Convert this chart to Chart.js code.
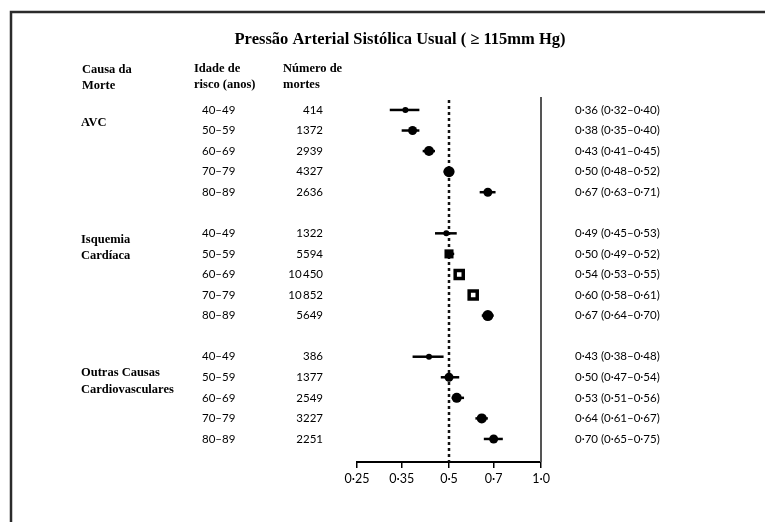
<!DOCTYPE html>
<html lang="pt">
<head>
<meta charset="utf-8">
<title>Pressão Arterial Sistólica Usual</title>
<script src="https://cdn.jsdelivr.net/npm/chart.js@4.4.1/dist/chart.umd.min.js"></script>
<style>
  html, body { margin: 0; padding: 0; background: #fff; }
  #wrap { width: 765px; height: 522px; }
</style>
</head>
<body>
<div id="wrap"><canvas id="forest" width="765" height="522"></canvas></div>
<script>
// forest.js — razão de risco por causa de morte e idade

// Dados
const causas = [['AVC'], ['Isquemia', 'Cardíaca'], ['Outras Causas', 'Cardiovasculares']];
const idades = ['40–49', '50–59', '60–69', '70–79', '80–89'];

const mortesAVC = [414, 1372, 2939, 4327, 2636];
const mortesIsq = [1322, 5594, 10450, 10852, 5649];
const mortesOutras = [386, 1377, 2549, 3227, 2251];

const rrAVC = [0.36, 0.38, 0.43, 0.50, 0.67];
const infAVC = [0.32, 0.35, 0.41, 0.48, 0.63];
const supAVC = [0.40, 0.40, 0.45, 0.52, 0.71];

const rrIsq = [0.49, 0.50, 0.54, 0.60, 0.67];
const infIsq = [0.45, 0.49, 0.53, 0.58, 0.64];
const supIsq = [0.53, 0.52, 0.55, 0.61, 0.70];

const rrOutras = [0.43, 0.50, 0.53, 0.64, 0.70];
const infOutras = [0.38, 0.47, 0.51, 0.61, 0.65];
const supOutras = [0.48, 0.54, 0.56, 0.67, 0.75];

const ticksX = [0.25, 0.35, 0.5, 0.7, 1.0];

// Estilo dos marcadores (tamanho ~ precisão da estimativa)
const raios = [
  [3, 4.5, 5, 5.5, 4.5],
  [3, 6.4, 5.7, 5.7, 5.5],
  [3, 4.5, 5, 5, 4.5]
];
const formatos = [
  ['circle', 'circle', 'circle', 'circle', 'circle'],
  ['circle', 'rect', 'rect', 'rect', 'circle'],
  ['circle', 'circle', 'circle', 'circle', 'circle']
];
const vazados = [
  [false, false, false, false, false],
  [false, false, true, true, false],
  [false, false, false, false, false]
];
// linhas do texto do grupo, relativas à primeira linha do grupo
const linhasRotulo = [[0.6], [0.3, 1.1], [0.8, 1.6]];

const grupos = [
  { mortes: mortesAVC, rr: rrAVC, inf: infAVC, sup: supAVC },
  { mortes: mortesIsq, rr: rrIsq, inf: infIsq, sup: supIsq },
  { mortes: mortesOutras, rr: rrOutras, inf: infOutras, sup: supOutras }
];

const PASSO = 6; // 5 linhas + 1 linha vazia
const serif = '"Liberation Serif", "Times New Roman", serif';
const sans = 'Lato, "Open Sans", sans-serif';

const fmt = v => v.toFixed(2).replace('.', '·');
const fmtTick = v => (v === 1 ? '1·0' : String(v).replace('.', '·'));
const fmtMortes = n => (n >= 10000 ? String(n).replace(/(\d{2})(\d{3})$/, '$1\u2009$2') : String(n));

// Fundo + moldura
const fundoPlugin = {
  id: 'fundo',
  beforeDraw(chart) {
    const ctx = chart.ctx;
    ctx.save();
    ctx.fillStyle = '#fff';
    ctx.fillRect(0, 0, chart.width, chart.height);
    ctx.strokeStyle = '#2b2b2b';
    ctx.lineWidth = 2.5;
    ctx.beginPath();
    ctx.moveTo(11, chart.height + 2);
    ctx.lineTo(11, 12);
    ctx.lineTo(chart.width + 2, 12);
    ctx.stroke();
    ctx.restore();
  }
};

// Linhas de referência + barras de erro
const barrasPlugin = {
  id: 'barras',
  beforeDatasetsDraw(chart) {
    const ctx = chart.ctx;
    const x = chart.scales.x;
    const y = chart.scales.y;
    const area = chart.chartArea;
    ctx.save();

    // linha contínua em 1·0
    ctx.strokeStyle = '#555';
    ctx.lineWidth = 2;
    ctx.beginPath();
    ctx.moveTo(x.getPixelForValue(1.0), area.top);
    ctx.lineTo(x.getPixelForValue(1.0), area.bottom);
    ctx.stroke();

    // linha pontilhada em 0·5
    ctx.strokeStyle = '#111';
    ctx.lineWidth = 2.5;
    ctx.setLineDash([3, 3]);
    ctx.beginPath();
    ctx.moveTo(x.getPixelForValue(0.5), area.top + 3);
    ctx.lineTo(x.getPixelForValue(0.5), area.bottom);
    ctx.stroke();
    ctx.setLineDash([]);

    // intervalos de confiança
    ctx.strokeStyle = '#000';
    ctx.lineWidth = 2.5;
    grupos.forEach((g, gi) => {
      g.rr.forEach((v, i) => {
        const py = y.getPixelForValue(gi * PASSO + i);
        ctx.beginPath();
        ctx.moveTo(x.getPixelForValue(g.inf[i]), py);
        ctx.lineTo(x.getPixelForValue(g.sup[i]), py);
        ctx.stroke();
      });
    });
    ctx.restore();
  }
};

// Textos: título, cabeçalhos, colunas
const textosPlugin = {
  id: 'textos',
  afterDraw(chart) {
    const ctx = chart.ctx;
    const y = chart.scales.y;
    ctx.save();
    ctx.fillStyle = '#000';

    // Título
    ctx.font = 'bold 16.5px ' + serif;
    ctx.textAlign = 'center';
    ctx.textBaseline = 'alphabetic';
    ctx.fillText('Pressão Arterial Sistólica Usual ( ≥ 115mm Hg)', 400, 44);

    // Cabeçalhos
    ctx.font = 'bold 12.5px ' + serif;
    ctx.textAlign = 'left';
    ctx.fillText('Causa da', 82, 73);
    ctx.fillText('Morte', 82, 89);
    ctx.fillText('Idade de', 194, 72);
    ctx.fillText('risco (anos)', 194, 88);
    ctx.fillText('Número de', 283, 72);
    ctx.fillText('mortes', 283, 88);

    // Rótulos dos grupos
    ctx.textBaseline = 'middle';
    causas.forEach((linhas, gi) => {
      linhas.forEach((t, k) => {
        ctx.fillText(t, 81, y.getPixelForValue(gi * PASSO + linhasRotulo[gi][k]));
      });
    });

    // Idades, mortes, RR (IC)
    ctx.font = '11.5px ' + sans;
    grupos.forEach((g, gi) => {
      idades.forEach((idade, i) => {
        const py = y.getPixelForValue(gi * PASSO + i);
        ctx.textAlign = 'left';
        ctx.fillText(idade, 202, py);
        ctx.textAlign = 'right';
        ctx.fillText(fmtMortes(g.mortes[i]), 323, py);
        ctx.textAlign = 'left';
        ctx.fillText(`${fmt(g.rr[i])} (${fmt(g.inf[i])}–${fmt(g.sup[i])})`, 575, py);
      });
    });
    ctx.restore();
  }
};

const datasets = grupos.map((g, gi) => ({
  data: g.rr.map((v, i) => ({ x: v, y: gi * PASSO + i })),
  pointRadius: raios[gi],
  pointStyle: formatos[gi],
  pointBackgroundColor: vazados[gi].map(o => (o ? '#fff' : '#000')),
  pointBorderColor: '#000',
  pointBorderWidth: vazados[gi].map(o => (o ? 3.5 : 0))
}));

new Chart(document.getElementById('forest'), {
  type: 'scatter',
  data: { datasets },
  options: {
    responsive: false,
    animation: false,
    events: [],
    layout: {
      padding: { left: 357, right: 224, top: 97, bottom: 0 }
    },
    scales: {
      x: {
        type: 'logarithmic',
        min: 0.25,
        max: 1.0,
        afterBuildTicks: axis => {
          axis.ticks = ticksX.map(v => ({ value: v }));
        },
        afterFit: axis => {
          axis.height = 60;
        },
        ticks: {
          autoSkip: false,
          maxRotation: 0,
          padding: 3,
          color: '#000',
          font: { family: sans, size: 12.5 },
          callback: v => fmtTick(v)
        },
        grid: {
          drawOnChartArea: false,
          drawTicks: true,
          tickLength: 6,
          color: '#000',
          lineWidth: 1.5
        },
        border: { display: true, color: '#000', width: 2 }
      },
      y: {
        type: 'linear',
        display: false,
        reverse: true,
        min: -0.63,
        max: 17.12
      }
    },
    plugins: {
      legend: { display: false },
      tooltip: { enabled: false }
    }
  },
  plugins: [fundoPlugin, barrasPlugin, textosPlugin]
});
</script>
</body>
</html>
